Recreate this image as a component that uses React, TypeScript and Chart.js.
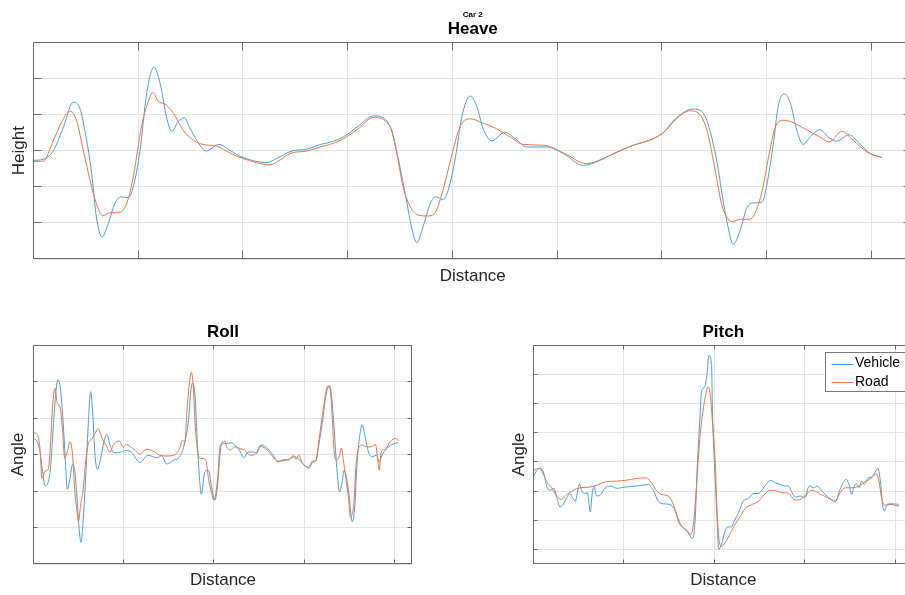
import React, { useEffect, useRef } from "react";
import { Chart, registerables } from "chart.js";

Chart.register(...registerables);

const FONT = "'Liberation Sans', Arial, Helvetica, sans-serif";
const VEHICLE_COLOR = "#4d9ddb";
const ROAD_COLOR = "#e8774a";
const SERIES_LABELS = ["Vehicle", "Road"];

// ---------- Heave (distance in tick units, height) ----------
const heaveVehicleX = [0, 0.094, 0.19, 0.285, 0.38, 0.444, 0.49, 0.556, 0.6, 0.654, 0.714, 0.778, 0.833, 0.906, 0.953, 1.017, 1.08, 1.15, 1.21, 1.27, 1.32, 1.38, 1.44, 1.49, 1.56, 1.65, 1.77, 1.88, 2.0, 2.23, 2.32, 2.47, 2.61, 2.74, 2.83, 2.96, 3.09, 3.25, 3.36, 3.42, 3.48, 3.55, 3.61, 3.66, 3.72, 3.79, 3.84, 3.91, 3.96, 4.03, 4.09, 4.17, 4.23, 4.3, 4.38, 4.5, 4.6, 4.71, 4.9, 5.06, 5.25, 5.41, 5.57, 5.73, 5.92, 6.02, 6.14, 6.3, 6.4, 6.46, 6.53, 6.59, 6.64, 6.68, 6.75, 6.81, 6.87, 6.96, 7.0, 7.07, 7.11, 7.17, 7.23, 7.29, 7.35, 7.43, 7.51, 7.59, 7.67, 7.79, 7.89, 7.99, 8.1];
const heaveVehicleY = [-0.27, -0.24, 0.0, 0.65, 1.34, 1.16, 0.56, -0.64, -1.83, -2.39, -2.02, -1.46, -1.28, -1.3, -1.0, 0.0, 1.57, 2.31, 1.85, 0.93, 0.53, 0.79, 0.91, 0.65, 0.28, -0.01, 0.17, 0.0, -0.19, -0.33, -0.22, -0.01, 0.04, 0.17, 0.23, 0.38, 0.65, 0.96, 0.86, 0.56, -0.18, -1.19, -2.11, -2.55, -2.11, -1.46, -1.28, -1.35, -1.1, -0.18, 0.93, 1.51, 1.25, 0.56, 0.27, 0.51, 0.33, 0.1, 0.1, -0.08, -0.41, -0.27, -0.04, 0.15, 0.33, 0.51, 0.91, 1.15, 1.02, 0.56, -0.36, -1.46, -2.2, -2.59, -2.2, -1.6, -1.45, -1.42, -1.0, 0.28, 1.2, 1.57, 1.3, 0.56, 0.17, 0.42, 0.58, 0.38, 0.26, 0.44, 0.19, -0.08, -0.19];
const heaveRoadX = [0, 0.094, 0.19, 0.285, 0.35, 0.41, 0.476, 0.54, 0.6, 0.66, 0.73, 0.83, 0.89, 0.953, 1.03, 1.1, 1.14, 1.19, 1.26, 1.34, 1.43, 1.53, 1.62, 1.75, 1.88, 2.0, 2.26, 2.35, 2.45, 2.61, 2.74, 2.83, 2.96, 3.09, 3.25, 3.36, 3.42, 3.47, 3.53, 3.6, 3.68, 3.76, 3.83, 3.91, 3.99, 4.06, 4.1, 4.17, 4.3, 4.42, 4.55, 4.68, 4.87, 5.06, 5.28, 5.44, 5.6, 5.73, 5.92, 6.02, 6.14, 6.27, 6.37, 6.44, 6.51, 6.57, 6.62, 6.67, 6.75, 6.84, 6.89, 6.96, 7.02, 7.08, 7.16, 7.24, 7.38, 7.51, 7.6, 7.72, 7.83, 7.96, 8.1];
const heaveRoadY = [-0.3, -0.29, 0.28, 0.88, 1.09, 0.84, 0.0, -0.82, -1.46, -1.8, -1.72, -1.7, -1.46, -0.73, 0.65, 1.39, 1.61, 1.37, 1.28, 1.02, 0.56, 0.28, 0.17, 0.12, -0.07, -0.22, -0.39, -0.27, -0.08, -0.01, 0.1, 0.17, 0.33, 0.58, 0.92, 0.82, 0.56, -0.08, -1.0, -1.56, -1.79, -1.81, -1.74, -1.1, -0.18, 0.56, 0.79, 0.88, 0.75, 0.61, 0.38, 0.17, 0.15, -0.06, -0.36, -0.22, -0.01, 0.15, 0.33, 0.51, 0.88, 1.1, 0.98, 0.47, -0.54, -1.46, -1.83, -1.97, -1.9, -1.9, -1.74, -1.1, -0.18, 0.61, 0.84, 0.79, 0.58, 0.38, 0.24, 0.53, 0.28, -0.04, -0.19];

// ---------- Roll ----------
const rollVehicleX = [0, 0.044, 0.074, 0.103, 0.129, 0.166, 0.19, 0.22, 0.25, 0.273, 0.3, 0.33, 0.354, 0.376, 0.406, 0.435, 0.46, 0.487, 0.51, 0.528, 0.553, 0.583, 0.61, 0.635, 0.657, 0.683, 0.712, 0.745, 0.782, 0.815, 0.849, 0.893, 0.94, 1.03, 1.09, 1.18, 1.27, 1.37, 1.42, 1.48, 1.55, 1.62, 1.67, 1.72, 1.74, 1.76, 1.79, 1.81, 1.84, 1.86, 1.9, 1.94, 1.97, 2.01, 2.04, 2.07, 2.09, 2.12, 2.2, 2.23, 2.28, 2.33, 2.38, 2.44, 2.47, 2.52, 2.57, 2.64, 2.71, 2.79, 2.84, 2.9, 2.95, 3.01, 3.05, 3.09, 3.13, 3.16, 3.2, 3.24, 3.28, 3.3, 3.33, 3.36, 3.39, 3.42, 3.44, 3.47, 3.5, 3.53, 3.56, 3.58, 3.61, 3.64, 3.67, 3.71, 3.75, 3.8, 3.83, 3.86, 3.91, 3.97, 4.04];
const rollVehicleY = [0.44, 0.35, 0.07, -0.47, -0.86, -0.75, -0.38, 0.71, 1.72, 2.05, 1.81, 0.89, -0.11, -0.95, -0.66, -0.27, -0.47, -1.3, -2.12, -2.41, -1.75, -0.47, 0.89, 1.72, 1.17, -0.02, -0.41, -0.11, 0.35, 0.55, 0.26, 0.05, 0.05, 0.11, 0.05, -0.22, -0.02, -0.09, -0.04, -0.26, -0.16, -0.06, 0.26, 0.99, 1.63, 1.95, 1.63, 0.62, -0.66, -1.09, -0.47, -0.43, -0.84, -1.25, -0.84, 0.07, 0.35, 0.3, 0.32, 0.26, 0.12, -0.09, 0.07, 0.07, 0.03, 0.26, 0.21, 0.03, -0.18, -0.16, -0.11, -0.06, -0.16, -0.31, -0.38, -0.22, -0.16, 0.26, 0.89, 1.63, 1.88, 1.63, 0.71, -0.38, -1.02, -0.75, -0.43, -0.66, -1.21, -1.84, -1.39, -0.38, 0.44, 0.82, 0.53, 0.07, -0.06, -0.02, -0.2, -0.02, 0.16, 0.27, 0.33];
const rollRoadX = [0, 0.044, 0.074, 0.096, 0.129, 0.166, 0.19, 0.214, 0.24, 0.266, 0.295, 0.325, 0.347, 0.376, 0.406, 0.435, 0.46, 0.48, 0.5, 0.524, 0.553, 0.583, 0.61, 0.646, 0.683, 0.72, 0.756, 0.804, 0.849, 0.886, 0.952, 0.996, 1.03, 1.11, 1.18, 1.25, 1.33, 1.4, 1.48, 1.57, 1.62, 1.65, 1.68, 1.7, 1.73, 1.75, 1.77, 1.79, 1.82, 1.85, 1.88, 1.91, 1.94, 1.97, 2.0, 2.04, 2.07, 2.09, 2.12, 2.14, 2.18, 2.23, 2.29, 2.34, 2.4, 2.46, 2.51, 2.57, 2.64, 2.71, 2.77, 2.83, 2.88, 2.91, 2.94, 2.98, 3.05, 3.09, 3.13, 3.16, 3.2, 3.24, 3.26, 3.29, 3.31, 3.33, 3.36, 3.39, 3.41, 3.43, 3.46, 3.49, 3.51, 3.55, 3.57, 3.6, 3.64, 3.68, 3.73, 3.79, 3.81, 3.83, 3.85, 3.9, 3.95, 4.01, 4.05];
const rollRoadY = [0.6, 0.55, 0.16, -0.66, -0.46, -0.4, 0.26, 1.35, 1.81, 1.4, 1.31, 0.62, -0.11, 0.07, 0.35, -0.02, -1.02, -1.48, -1.83, -1.39, -0.93, -0.11, 0.3, 0.42, 0.58, 0.71, 0.48, 0.26, 0.07, 0.26, 0.37, 0.21, 0.27, 0.15, 0.01, 0.15, 0.09, -0.02, -0.04, 0.0, 0.16, 0.39, 0.35, 1.17, 1.99, 2.25, 1.9, 0.89, 0.07, -0.11, -0.11, -0.16, -0.66, -1.02, -1.25, -0.66, 0.26, 0.27, 0.37, 0.21, 0.12, 0.21, 0.16, 0.12, -0.02, 0.01, 0.23, 0.16, -0.02, -0.2, -0.14, -0.16, -0.02, -0.13, -0.02, -0.25, -0.34, -0.18, -0.16, 0.35, 1.08, 1.72, 1.88, 1.72, 0.99, 0.07, -0.16, -0.02, 0.18, -0.11, -0.66, -1.21, -1.71, -1.3, -0.38, 0.16, 0.26, 0.21, 0.21, 0.27, -0.11, -0.43, 0.07, 0.15, 0.35, 0.44, 0.37];

// ---------- Pitch ----------
const pitchVehicleX = [0, 0.037, 0.074, 0.103, 0.129, 0.155, 0.19, 0.23, 0.26, 0.295, 0.33, 0.37, 0.406, 0.435, 0.465, 0.49, 0.51, 0.535, 0.57, 0.6, 0.616, 0.63, 0.65, 0.67, 0.7, 0.745, 0.79, 0.85, 0.93, 1.0, 1.14, 1.27, 1.33, 1.38, 1.44, 1.51, 1.57, 1.61, 1.67, 1.71, 1.76, 1.79, 1.81, 1.84, 1.86, 1.89, 1.92, 1.94, 1.97, 1.98, 2.01, 2.03, 2.05, 2.08, 2.12, 2.15, 2.19, 2.22, 2.27, 2.32, 2.38, 2.43, 2.49, 2.56, 2.62, 2.68, 2.73, 2.79, 2.82, 2.86, 2.9, 2.95, 3.0, 3.05, 3.1, 3.14, 3.19, 3.26, 3.34, 3.39, 3.46, 3.49, 3.52, 3.54, 3.57, 3.6, 3.63, 3.66, 3.7, 3.74, 3.77, 3.81, 3.84, 3.86, 3.88, 3.91, 3.96, 4.0, 4.04];
const pitchVehicleY = [-0.52, -0.3, -0.21, -0.3, -0.55, -0.91, -0.97, -0.91, -1.23, -1.55, -1.46, -1.23, -1.09, -1.23, -1.35, -1.0, -0.75, -1.0, -1.08, -1.06, -1.46, -1.72, -1.12, -0.83, -1.17, -1.12, -0.91, -0.83, -0.91, -0.87, -0.83, -0.78, -1.0, -1.35, -1.44, -1.46, -1.69, -2.09, -2.29, -2.43, -2.62, -1.92, -0.32, 1.39, 2.42, 2.55, 2.99, 3.64, 3.33, 1.73, -0.55, -1.9, -3.0, -2.83, -2.37, -2.23, -2.23, -2.03, -1.74, -1.35, -1.25, -1.09, -1.08, -0.83, -0.64, -0.72, -0.78, -0.83, -0.83, -1.06, -1.21, -1.17, -1.23, -0.83, -0.89, -0.83, -1.0, -1.21, -1.35, -0.95, -0.6, -0.78, -1.12, -0.89, -0.75, -0.89, -0.66, -0.78, -0.55, -0.52, -0.38, -0.23, -0.78, -1.46, -1.69, -1.48, -1.46, -1.49, -1.52];
const pitchRoadX = [0, 0.037, 0.074, 0.103, 0.148, 0.203, 0.258, 0.31, 0.37, 0.44, 0.516, 0.61, 0.7, 0.81, 0.92, 1.03, 1.14, 1.235, 1.29, 1.36, 1.42, 1.49, 1.54, 1.59, 1.64, 1.7, 1.74, 1.77, 1.8, 1.83, 1.86, 1.9, 1.93, 1.95, 1.98, 2.01, 2.03, 2.05, 2.08, 2.12, 2.18, 2.23, 2.29, 2.34, 2.42, 2.49, 2.54, 2.62, 2.69, 2.77, 2.83, 2.88, 2.93, 3.0, 3.08, 3.15, 3.25, 3.34, 3.39, 3.45, 3.52, 3.6, 3.67, 3.74, 3.79, 3.82, 3.85, 3.88, 3.93, 3.98, 4.04];
const pitchRoadY = [-0.32, -0.24, -0.23, -0.38, -0.68, -0.89, -1.17, -1.29, -1.12, -0.98, -0.89, -0.87, -0.8, -0.68, -0.66, -0.63, -0.57, -0.55, -0.64, -0.98, -1.12, -1.17, -1.4, -1.86, -2.2, -2.35, -2.49, -2.14, -1.0, 0.36, 1.39, 2.19, 2.57, 2.42, 1.39, 0.02, -1.6, -2.6, -2.89, -2.77, -2.43, -2.14, -1.86, -1.6, -1.46, -1.35, -1.17, -0.97, -1.0, -1.06, -1.09, -1.29, -1.31, -1.17, -0.97, -1.06, -1.23, -1.35, -1.06, -0.89, -0.89, -0.83, -0.68, -0.55, -0.41, -0.66, -1.23, -1.49, -1.44, -1.44, -1.46];

const pts = (xs: number[], ys: number[]) => xs.map((x, i) => ({ x, y: ys[i] }));

const framePlugin = {
  id: "matlabFrame",
  afterDraw(chart: any, _args: any, opts: any) {
    const { ctx, chartArea: a, scales } = chart;
    const len = opts.tickLength || 4;
    const L = Math.floor(a.left) + 0.5;
    const R = Math.floor(a.right) - 0.5;
    const T = Math.floor(a.top) + 0.5;
    const B = Math.floor(a.bottom) - 0.5;
    ctx.save();
    ctx.strokeStyle = opts.color || "#666";
    ctx.lineWidth = 1;
    ctx.beginPath();
    for (const t of scales.x.ticks) {
      const px = Math.floor(scales.x.getPixelForValue(t.value)) + 0.5;
      if (px <= L + 1 || px >= R - 1) continue;
      ctx.moveTo(px, B);
      ctx.lineTo(px, B - len);
      ctx.moveTo(px, T);
      ctx.lineTo(px, T + len);
    }
    for (const t of scales.y.ticks) {
      const py = Math.floor(scales.y.getPixelForValue(t.value)) + 0.5;
      if (py <= T + 1 || py >= B - 1) continue;
      ctx.moveTo(L, py);
      ctx.lineTo(L + len, py);
      ctx.moveTo(R, py);
      ctx.lineTo(R - len, py);
    }
    ctx.stroke();
    ctx.strokeRect(L, T, R - L, B - T);

    if (opts.legend) {
      const left = Math.floor(a.right - 88) + 0.5;
      const top = Math.floor(a.top + 7) + 0.5;
      const w = 84;
      const h = 39;
      ctx.fillStyle = "#fff";
      ctx.fillRect(left, top, w, h);
      ctx.strokeStyle = "#7a7a7a";
      ctx.strokeRect(left, top, w, h);
      ctx.font = `14px ${FONT}`;
      ctx.textBaseline = "middle";
      ctx.textAlign = "left";
      chart.data.datasets.forEach((ds: any, i: number) => {
        const y = top + 11 + i * 18.5;
        ctx.strokeStyle = ds.borderColor;
        ctx.beginPath();
        ctx.moveTo(left + 6, Math.round(y) + 0.5);
        ctx.lineTo(left + 28, Math.round(y) + 0.5);
        ctx.stroke();
        ctx.fillStyle = "#000";
        ctx.fillText(ds.label, left + 29.5, y);
      });
    }
    ctx.restore();
  },
};

type PanelSpec = {
  left: number;
  top: number;
  width: number;
  height: number;
  title: string;
  supTitle?: string;
  yLabel: string;
  xMax: number;
  yMin: number;
  yMax: number;
  yAxisWidth: number;
  xAxisHeight: number;
  padRight: number;
  titlePadTop: number;
  titlePadBottom: number;
  xTitlePadBottom: number;
  yTitlePadTop: number;
  tickLength: number;
  legend: boolean;
  vehicle: { x: number; y: number }[];
  road: { x: number; y: number }[];
};

const panels: PanelSpec[] = [
  {
    left: 0, top: 0, width: 925, height: 300,
    title: "Heave", supTitle: "Car 2", yLabel: "Height",
    xMax: 8.39, yMin: -3, yMax: 3,
    yAxisWidth: 33.5, xAxisHeight: 41, padRight: 13,
    titlePadTop: 0, titlePadBottom: 2.7,
    xTitlePadBottom: 13.3, yTitlePadTop: 9.3, tickLength: 8, legend: false,
    vehicle: pts(heaveVehicleX, heaveVehicleY),
    road: pts(heaveRoadX, heaveRoadY),
  },
  {
    left: 0, top: 300, width: 425, height: 295,
    title: "Roll", yLabel: "Angle",
    xMax: 4.2, yMin: -3, yMax: 3,
    yAxisWidth: 33.3, xAxisHeight: 31, padRight: 12.3,
    titlePadTop: 21.8, titlePadBottom: 2.8,
    xTitlePadBottom: 4.3, yTitlePadTop: 8.6, tickLength: 4, legend: false,
    vehicle: pts(rollVehicleX, rollVehicleY),
    road: pts(rollRoadX, rollRoadY),
  },
  {
    left: 500, top: 300, width: 425, height: 295,
    title: "Pitch", yLabel: "Angle",
    xMax: 4.2, yMin: -3.5, yMax: 4,
    yAxisWidth: 33.3, xAxisHeight: 31, padRight: 11.7,
    titlePadTop: 21.8, titlePadBottom: 2.8,
    xTitlePadBottom: 4.3, yTitlePadTop: 8.8, tickLength: 4, legend: true,
    vehicle: pts(pitchVehicleX, pitchVehicleY),
    road: pts(pitchRoadX, pitchRoadY),
  },
];

function Panel({ spec }: { spec: PanelSpec }) {
  const ref = useRef<HTMLCanvasElement>(null);
  useEffect(() => {
    const grid = { color: "#e4e4e4", lineWidth: 1, drawTicks: false };
    const hasSup = !!spec.supTitle;
    const chart = new Chart(ref.current as HTMLCanvasElement, {
      type: "line",
      data: {
        datasets: [
          {
            label: SERIES_LABELS[0],
            data: spec.vehicle,
            borderColor: VEHICLE_COLOR,
            backgroundColor: VEHICLE_COLOR,
            borderWidth: 1,
            pointRadius: 0,
            cubicInterpolationMode: "monotone",
            order: 1,
          },
          {
            label: SERIES_LABELS[1],
            data: spec.road,
            borderColor: ROAD_COLOR,
            backgroundColor: ROAD_COLOR,
            borderWidth: 1,
            pointRadius: 0,
            cubicInterpolationMode: "monotone",
            order: 0,
          },
        ],
      },
      options: {
        responsive: false,
        animation: false,
        events: [],
        layout: { padding: { left: 0, top: 0, right: spec.padRight, bottom: 0 } },
        font: { family: FONT },
        scales: {
          x: {
            type: "linear",
            min: 0,
            max: spec.xMax,
            grid,
            border: { display: false },
            ticks: { display: false, stepSize: 1, includeBounds: false },
            title: {
              display: true,
              text: "Distance",
              color: "#262626",
              font: { family: FONT, size: 17 },
              padding: { top: 0, bottom: spec.xTitlePadBottom },
            },
            afterFit: (s: any) => {
              s.height = spec.xAxisHeight;
            },
          },
          y: {
            type: "linear",
            min: spec.yMin,
            max: spec.yMax,
            grid,
            border: { display: false },
            ticks: { display: false, stepSize: 1, includeBounds: false },
            title: {
              display: true,
              text: spec.yLabel,
              color: "#262626",
              font: { family: FONT, size: 17 },
              padding: { top: spec.yTitlePadTop, bottom: 0 },
            },
            afterFit: (s: any) => {
              s.width = spec.yAxisWidth;
            },
          },
        },
        plugins: {
          legend: { display: false },
          tooltip: { enabled: false },
          title: hasSup
            ? {
                display: true,
                text: spec.supTitle,
                color: "#000",
                fullSize: false,
                font: { family: FONT, size: 8, weight: "bold" },
                padding: { top: 9.5, bottom: 0 },
              }
            : {
                display: true,
                text: spec.title,
                color: "#000",
                fullSize: false,
                font: { family: FONT, size: 17, weight: "bold" },
                padding: { top: spec.titlePadTop, bottom: spec.titlePadBottom },
              },
          subtitle: hasSup
            ? {
                display: true,
                text: spec.title,
                color: "#000",
                fullSize: false,
                font: { family: FONT, size: 17, weight: "bold" },
                padding: { top: spec.titlePadTop, bottom: spec.titlePadBottom },
              }
            : { display: false },
          matlabFrame: { tickLength: spec.tickLength, color: "#6a6a6a", legend: spec.legend },
        } as any,
      } as any,
      plugins: [framePlugin],
    });
    return () => chart.destroy();
  }, [spec]);
  return (
    <canvas
      ref={ref}
      width={spec.width}
      height={spec.height}
      style={{ position: "absolute", left: spec.left, top: spec.top, width: spec.width, height: spec.height }}
    />
  );
}

export default function App() {
  return (
    <div
      style={{
        position: "fixed",
        left: 0,
        top: 0,
        width: 905,
        height: 595,
        overflow: "hidden",
        background: "#fff",
      }}
    >
      {panels.map((p, i) => (
        <Panel key={i} spec={p} />
      ))}
    </div>
  );
}
